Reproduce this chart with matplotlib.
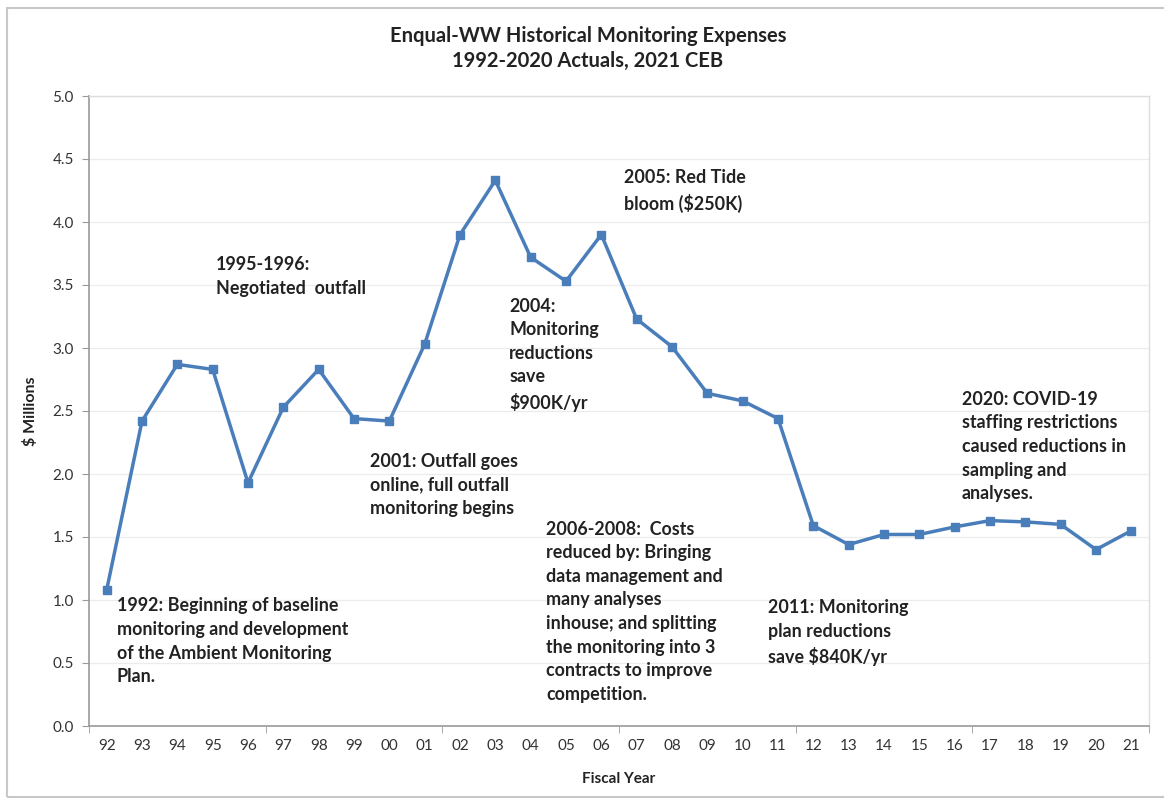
import matplotlib.pyplot as plt
import matplotlib.patches as patches
import numpy as np

plt.rcParams['font.family'] = ['Lato', 'DejaVu Sans']

# fiscal years (two-digit labels) and expenses in $ millions
years = ['92', '93', '94', '95', '96', '97', '98', '99', '00', '01',
         '02', '03', '04', '05', '06', '07', '08', '09', '10', '11',
         '12', '13', '14', '15', '16', '17', '18', '19', '20', '21']
expenses = [1.08, 2.42, 2.87, 2.83, 1.93, 2.53, 2.83, 2.44, 2.42, 3.03,
            3.90, 4.33, 3.72, 3.53, 3.90, 3.23, 3.01, 2.64, 2.58, 2.44,
            1.59, 1.44, 1.52, 1.52, 1.58, 1.63, 1.62, 1.60, 1.40, 1.55]

# annotations: (x index, y value, text)
notes = [
    (0.29, 1.02, '1992: Beginning of baseline\nmonitoring and development\n'
                 'of the Ambient Monitoring\nPlan.'),
    (3.1, 3.73, '1995-1996:\nNegotiated  outfall'),
    (7.45, 2.17, '2001: Outfall goes\nonline, full outfall\nmonitoring begins'),
    (11.39, 3.40, '2004:\nMonitoring\nreductions\nsave\n$900K/yr'),
    (14.64, 4.42, '2005: Red Tide\nbloom ($250K)'),
    (12.44, 1.63, '2006-2008:  Costs\nreduced by: Bringing\ndata management and\n'
                  'many analyses\ninhouse; and splitting\nthe monitoring into 3\n'
                  'contracts to improve\ncompetition.'),
    (18.72, 1.005, '2011: Monitoring\nplan reductions\nsave $840K/yr'),
    (24.2, 2.66, '2020: COVID-19\nstaffing restrictions\ncaused reductions in\n'
                 'sampling and\nanalyses.'),
]

fig = plt.figure(figsize=(11.64, 8), dpi=100)
ax = fig.add_axes([89 / 1164, 74 / 800, 1060 / 1164, 630 / 800])

# outer chart border
fig.patches.append(patches.Rectangle((7 / 1164, 3 / 800), 1.2, 789 / 800,
                                     transform=fig.transFigure, fill=False,
                                     edgecolor='#c8c8c8', linewidth=1.5))

x = np.arange(len(years))
ax.plot(x, expenses, color='#4a7ebb', linewidth=2.5, marker='s',
        markersize=6, zorder=3)

ax.set_xlim(-0.5, len(years) - 0.5)
ax.set_ylim(0, 5.0)
ax.set_yticks(np.arange(0, 5.01, 0.5))
ax.set_yticklabels(['%.1f' % v for v in np.arange(0, 5.01, 0.5)])
ax.set_xticks(x)
ax.set_xticklabels(years)
ax.set_xticks(np.arange(-0.5, len(years), 5), minor=True)
ax.tick_params(axis='x', which='major', length=0, pad=9,
               labelsize=11, labelcolor='#333333')
ax.tick_params(axis='x', which='minor', length=5, color='#9a9a9a', direction='out')
ax.tick_params(axis='y', length=5, color='#9a9a9a', labelsize=11,
               labelcolor='#333333', pad=6)

ax.grid(axis='y', color='#ececec', linewidth=0.9)
ax.set_axisbelow(True)
for side in ['left', 'bottom']:
    ax.spines[side].set_color('#9a9a9a')
    ax.spines[side].set_linewidth(1.2)
for side in ['top', 'right']:
    ax.spines[side].set_color('#dddddd')
    ax.spines[side].set_linewidth(1.0)

ax.set_xlabel('Fiscal Year', fontsize=11, fontweight='bold', labelpad=14,
              color='#222222')
ax.set_ylabel('$ Millions', fontsize=11.5, fontweight='bold', labelpad=10,
              color='#222222')

fig.text(0.505, 0.939, 'Enqual-WW Historical Monitoring Expenses\n'
         '1992-2020 Actuals, 2021 CEB', ha='center', va='center',
         fontsize=14.5, fontweight='bold', color='#222222', linespacing=1.3)

for nx, ny, txt in notes:
    ax.text(nx, ny, txt, ha='left', va='top', fontsize=12.9,
            fontweight='bold', color='#222222', linespacing=1.47, zorder=4)

fig.savefig('out.png', dpi=100)
